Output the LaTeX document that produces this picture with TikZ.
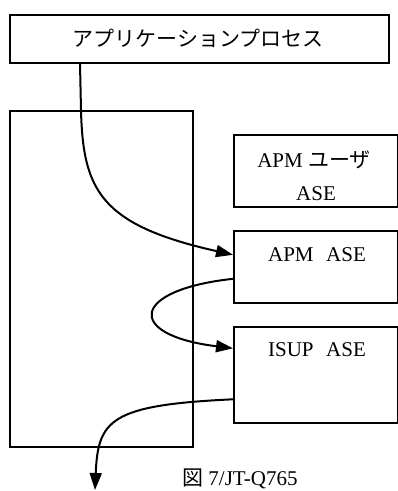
\documentclass[tikz,border=0pt]{standalone}
\usepackage{fontspec}
\setmainfont{Liberation Serif}
\newfontfamily\jp{Noto Sans CJK JP}
\usetikzlibrary{arrows.meta}
\begin{document}
\begin{tikzpicture}[x=1pt,y=-1pt,
  box/.style={draw, line width=1.6pt, rectangle, inner sep=0pt, anchor=north west},
  lbl/.style={inner sep=0pt, anchor=base, font=\fontsize{21}{33}\selectfont},
  flow/.style={line width=2pt, -{Triangle[length=17pt,width=12pt]}}]
\useasboundingbox (0,0) rectangle (398,491);
\clip (0,0) rectangle (398,491);
% boxes
\node[box, minimum width=379pt, minimum height=48pt] (top) at (9,14) {};
\node[box, minimum width=183pt, minimum height=336pt] (big) at (9,110) {};
\node[box, minimum width=164pt, minimum height=72pt] (user) at (233,134) {};
\node[box, minimum width=164pt, minimum height=72pt] (apm) at (233,230) {};
\node[box, minimum width=164pt, minimum height=96pt] (isup) at (233,326) {};
% labels
\node[lbl] (ttop) at (198,46) {\jp アプリケーションプロセス};
\node[lbl] (tuser1) at (314,167) {APM {\jp ユーザ}};
\node[lbl] (tuser2) at (316,200) {ASE};
\node[lbl] (tapm) at (317,261) {APM\hspace{0.6em}ASE};
\node[lbl] (tisup) at (317,356) {ISUP\hspace{0.6em}ASE};
\node[lbl, anchor=base west] (cap) at (182,485) {{\jp 図} 7/JT-Q765};
% connectors
\coordinate (bend) at (81,110);
\coordinate (out) at (95,490);
\draw[flow] ([xshift=71pt]top.south west) -- (bend)
  .. controls (83,190) and (100,225) .. ([yshift=12pt]apm.west);
\draw[flow] ([yshift=-12pt]apm.west)
  .. controls (130,290) and (125,335) .. ([yshift=26.5pt]isup.west);
\draw[flow] ([yshift=-24.5pt]isup.west)
  .. controls (110,405) and (98,420) .. (out);
\end{tikzpicture}
\end{document}
